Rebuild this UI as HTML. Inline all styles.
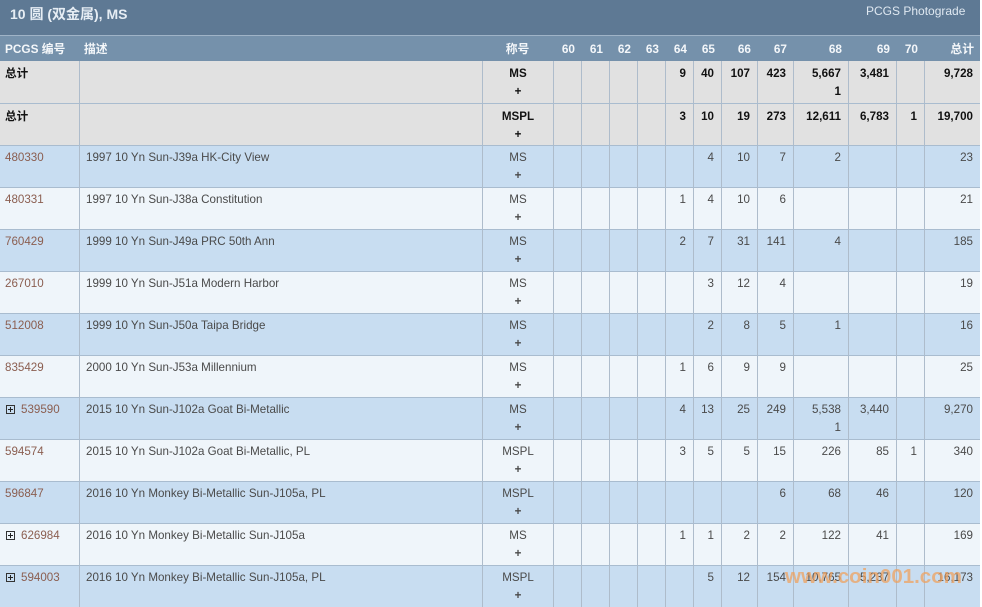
<!DOCTYPE html>
<html><head><meta charset="utf-8">
<style>
*{margin:0;padding:0;box-sizing:border-box}
body{width:982px;height:604px;overflow:hidden;background:#fff;font-family:"Liberation Sans","Noto Sans CJK SC",sans-serif;position:relative}
.title{position:absolute;left:0;top:0;width:980px;height:36px;background:#5e7994;border-bottom:1px solid #9fb3c7}
.title .t{position:absolute;left:10px;top:5px;font-size:14px;font-weight:bold;color:#e6edf4;line-height:18px}
.title .p{position:absolute;left:866px;top:3px;font-size:12px;color:#dfe8f1;line-height:16px}
.row{position:absolute;left:0;width:980px;display:grid;grid-template-columns:79px 403px 71px 28px 28px 28px 28px 28px 28px 36px 36px 55px 48px 28px 56px}
.hdr{top:36px;height:25px;background:#7591ab;color:#f4f7fa;font-weight:bold;font-size:11.8px}
.hdr div{padding:5px 6px 0 6px;line-height:16px;text-align:right;white-space:nowrap}
.hdr div.l{text-align:left;padding-left:5px}
.hdr div.c{text-align:center}
.r{height:42px;border-top:1px solid #a9bccf;font-size:11.6px;color:#4a4a4a}
.r div{border-left:1px solid #aebccb;padding:3px 7px 0 6px;line-height:18px;text-align:right;white-space:nowrap;overflow:visible}
.r div:first-child{border-left:none;text-align:left;padding-left:5px}
.r div.d{text-align:left;padding-left:6px}
.r div.c{text-align:center;padding-right:6px}
.tot{background:#e1e1e1;color:#111;font-weight:bold}
.tot.first{border-top:none}
.tot div{padding-top:4px}
.b{background:#c8ddf1}
.w{background:#eff5fa}
a{color:#8b5e50;text-decoration:none}
.ex{display:inline-block;width:9px;height:9px;border:1px solid #333;position:relative;vertical-align:-1px;margin-right:6px;margin-left:1px}
.ex:before{content:"";position:absolute;left:1px;top:3px;width:5px;height:1px;background:#222}
.ex:after{content:"";position:absolute;left:3px;top:1px;width:1px;height:5px;background:#222}
.plus{font-weight:bold}
.wm{position:absolute;left:785px;top:564px;font-size:20.5px;font-weight:bold;color:rgba(240,160,90,0.72);line-height:26px}
</style></head><body>
<div class="title"><div class="t">10 圆 (双金属), MS</div><div class="p">PCGS Photograde</div></div>
<div class="row hdr"><div class="l">PCGS 编号</div><div class="l">描述</div><div class="c">称号</div><div>60</div><div>61</div><div>62</div><div>63</div><div>64</div><div>65</div><div>66</div><div>67</div><div>68</div><div>69</div><div>70</div><div>总计</div></div>

<div class="row r tot first" style="top:61px"><div>总计</div><div class="d"></div><div class="c">MS<br>+</div><div></div><div></div><div></div><div></div><div>9</div><div>40</div><div>107</div><div>423</div><div>5,667<br>1</div><div>3,481</div><div></div><div>9,728</div></div>
<div class="row r tot" style="top:103px"><div>总计</div><div class="d"></div><div class="c">MSPL<br>+</div><div></div><div></div><div></div><div></div><div>3</div><div>10</div><div>19</div><div>273</div><div>12,611</div><div>6,783</div><div>1</div><div>19,700</div></div>

<div class="row r b" style="top:145px"><div><a>480330</a></div><div class="d">1997 10 Yn Sun-J39a HK-City View</div><div class="c">MS<br><span class="plus">+</span></div><div></div><div></div><div></div><div></div><div></div><div>4</div><div>10</div><div>7</div><div>2</div><div></div><div></div><div>23</div></div>
<div class="row r w" style="top:187px"><div><a>480331</a></div><div class="d">1997 10 Yn Sun-J38a Constitution</div><div class="c">MS<br><span class="plus">+</span></div><div></div><div></div><div></div><div></div><div>1</div><div>4</div><div>10</div><div>6</div><div></div><div></div><div></div><div>21</div></div>
<div class="row r b" style="top:229px"><div><a>760429</a></div><div class="d">1999 10 Yn Sun-J49a PRC 50th Ann</div><div class="c">MS<br><span class="plus">+</span></div><div></div><div></div><div></div><div></div><div>2</div><div>7</div><div>31</div><div>141</div><div>4</div><div></div><div></div><div>185</div></div>
<div class="row r w" style="top:271px"><div><a>267010</a></div><div class="d">1999 10 Yn Sun-J51a Modern Harbor</div><div class="c">MS<br><span class="plus">+</span></div><div></div><div></div><div></div><div></div><div></div><div>3</div><div>12</div><div>4</div><div></div><div></div><div></div><div>19</div></div>
<div class="row r b" style="top:313px"><div><a>512008</a></div><div class="d">1999 10 Yn Sun-J50a Taipa Bridge</div><div class="c">MS<br><span class="plus">+</span></div><div></div><div></div><div></div><div></div><div></div><div>2</div><div>8</div><div>5</div><div>1</div><div></div><div></div><div>16</div></div>
<div class="row r w" style="top:355px"><div><a>835429</a></div><div class="d">2000 10 Yn Sun-J53a Millennium</div><div class="c">MS<br><span class="plus">+</span></div><div></div><div></div><div></div><div></div><div>1</div><div>6</div><div>9</div><div>9</div><div></div><div></div><div></div><div>25</div></div>
<div class="row r b" style="top:397px"><div><span class="ex"></span><a>539590</a></div><div class="d">2015 10 Yn Sun-J102a Goat Bi-Metallic</div><div class="c">MS<br><span class="plus">+</span></div><div></div><div></div><div></div><div></div><div>4</div><div>13</div><div>25</div><div>249</div><div>5,538<br>1</div><div>3,440</div><div></div><div>9,270</div></div>
<div class="row r w" style="top:439px"><div><a>594574</a></div><div class="d">2015 10 Yn Sun-J102a Goat Bi-Metallic, PL</div><div class="c">MSPL<br><span class="plus">+</span></div><div></div><div></div><div></div><div></div><div>3</div><div>5</div><div>5</div><div>15</div><div>226</div><div>85</div><div>1</div><div>340</div></div>
<div class="row r b" style="top:481px"><div><a>596847</a></div><div class="d">2016 10 Yn Monkey Bi-Metallic Sun-J105a, PL</div><div class="c">MSPL<br><span class="plus">+</span></div><div></div><div></div><div></div><div></div><div></div><div></div><div></div><div>6</div><div>68</div><div>46</div><div></div><div>120</div></div>
<div class="row r w" style="top:523px"><div><span class="ex"></span><a>626984</a></div><div class="d">2016 10 Yn Monkey Bi-Metallic Sun-J105a</div><div class="c">MS<br><span class="plus">+</span></div><div></div><div></div><div></div><div></div><div>1</div><div>1</div><div>2</div><div>2</div><div>122</div><div>41</div><div></div><div>169</div></div>
<div class="row r b" style="top:565px"><div><span class="ex"></span><a>594003</a></div><div class="d">2016 10 Yn Monkey Bi-Metallic Sun-J105a, PL</div><div class="c">MSPL<br><span class="plus">+</span></div><div></div><div></div><div></div><div></div><div></div><div>5</div><div>12</div><div>154</div><div>10,765</div><div>5,237</div><div></div><div>16,173</div></div>

<div class="wm">www.coin001.com</div>
</body></html>
